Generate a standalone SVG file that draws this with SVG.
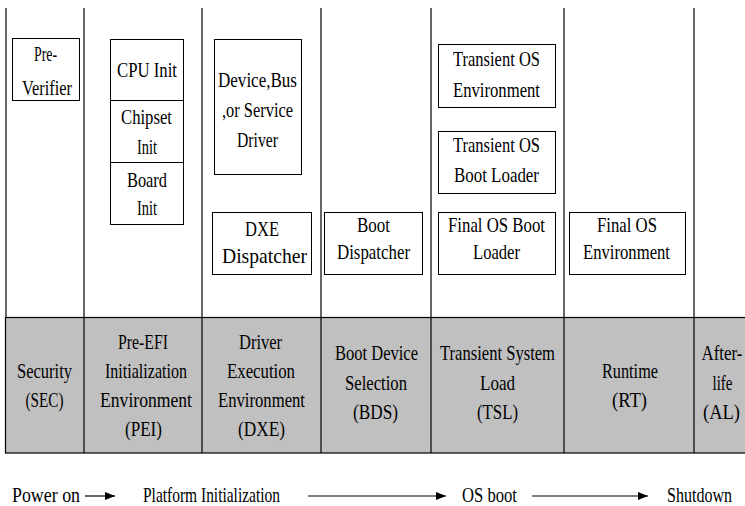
<svg xmlns="http://www.w3.org/2000/svg" width="745" height="506" viewBox="0 0 745 506" font-family="'Liberation Serif', 'Times New Roman', Times, serif">
<style>
text{font-family:'Liberation Serif','Times New Roman',Times,serif;font-size:22px;fill:#000;text-anchor:middle}
.box{fill:#fff;stroke:#000;stroke-width:1}
.lane{stroke:#000;stroke-width:1.2;fill:none}
.band{fill:#c0c0c0;stroke:#000;stroke-width:1.2}
.arr{stroke:#000;stroke-width:1.2;fill:none;marker-end:url(#ah)}
</style>
<defs>
<marker id="ah" viewBox="0 0 10 8" refX="10" refY="4" markerWidth="10" markerHeight="8" markerUnits="userSpaceOnUse" orient="auto">
<path d="M0,0 L10,4 L0,8 Z" fill="#000"/>
</marker>
</defs>
<rect width="745" height="506" fill="#fff"/>
<g id="lanes">
<line class="lane" x1="6" y1="8" x2="6" y2="317"/>
<line class="lane" x1="84" y1="8" x2="84" y2="317"/>
<line class="lane" x1="202" y1="8" x2="202" y2="317"/>
<line class="lane" x1="321" y1="8" x2="321" y2="317"/>
<line class="lane" x1="431" y1="8" x2="431" y2="317"/>
<line class="lane" x1="564" y1="8" x2="564" y2="317"/>
<line class="lane" x1="694" y1="8" x2="694" y2="317"/>
</g>
<g id="phases">
<rect class="band" x="5.5" y="317.5" width="745" height="135.5"/>
<line class="lane" x1="84" y1="317" x2="84" y2="453"/>
<line class="lane" x1="202" y1="317" x2="202" y2="453"/>
<line class="lane" x1="321" y1="317" x2="321" y2="453"/>
<line class="lane" x1="431" y1="317" x2="431" y2="453"/>
<line class="lane" x1="564" y1="317" x2="564" y2="453"/>
<line class="lane" x1="694" y1="317" x2="694" y2="453"/>
</g>
<g id="sec">
<text x="44.5" y="378" textLength="55" lengthAdjust="spacingAndGlyphs">Security</text>
<text x="44.5" y="407" textLength="38" lengthAdjust="spacingAndGlyphs">(SEC)</text>
</g>
<g id="pei">
<text x="143" y="349" textLength="50" lengthAdjust="spacingAndGlyphs">Pre-EFI</text>
<text x="146" y="378" textLength="82" lengthAdjust="spacingAndGlyphs">Initialization</text>
<text x="146" y="407" textLength="92" lengthAdjust="spacingAndGlyphs">Environment</text>
<text x="143.5" y="436" textLength="37" lengthAdjust="spacingAndGlyphs">(PEI)</text>
</g>
<g id="dxe">
<text x="260.5" y="349" textLength="43" lengthAdjust="spacingAndGlyphs">Driver</text>
<text x="261" y="378" textLength="68" lengthAdjust="spacingAndGlyphs">Execution</text>
<text x="261.5" y="407" textLength="87" lengthAdjust="spacingAndGlyphs">Environment</text>
<text x="261.5" y="436" textLength="47" lengthAdjust="spacingAndGlyphs">(DXE)</text>
</g>
<g id="bds">
<text x="376.5" y="360" textLength="83" lengthAdjust="spacingAndGlyphs">Boot Device</text>
<text x="376" y="390" textLength="62" lengthAdjust="spacingAndGlyphs">Selection</text>
<text x="375.5" y="419" textLength="45" lengthAdjust="spacingAndGlyphs">(BDS)</text>
</g>
<g id="tsl">
<text x="497.5" y="360" textLength="115" lengthAdjust="spacingAndGlyphs">Transient System</text>
<text x="497.5" y="390" textLength="35" lengthAdjust="spacingAndGlyphs">Load</text>
<text x="497.5" y="419" textLength="41" lengthAdjust="spacingAndGlyphs">(TSL)</text>
</g>
<g id="rt">
<text x="630" y="378" textLength="56" lengthAdjust="spacingAndGlyphs">Runtime</text>
<text x="629.5" y="407" textLength="35" lengthAdjust="spacingAndGlyphs">(RT)</text>
</g>
<g id="al">
<text x="722" y="360" textLength="41" lengthAdjust="spacingAndGlyphs">After-</text>
<text x="722.5" y="390" textLength="20" lengthAdjust="spacingAndGlyphs">life</text>
<text x="721.5" y="419" textLength="37" lengthAdjust="spacingAndGlyphs">(AL)</text>
</g>
<g id="pre-verifier">
<rect class="box" x="12.5" y="38.5" width="67" height="62"/>
<text x="45.5" y="61" textLength="23" lengthAdjust="spacingAndGlyphs">Pre-</text>
<text x="47" y="95" textLength="50" lengthAdjust="spacingAndGlyphs">Verifier</text>
</g>
<g id="cpu-init">
<rect class="box" x="110.5" y="39.5" width="73" height="61"/>
<text x="147" y="77" textLength="60" lengthAdjust="spacingAndGlyphs">CPU Init</text>
</g>
<g id="chipset-init">
<rect class="box" x="110.5" y="100.5" width="73" height="62"/>
<text x="146.5" y="124" textLength="51" lengthAdjust="spacingAndGlyphs">Chipset</text>
<text x="147" y="154" textLength="20" lengthAdjust="spacingAndGlyphs">Init</text>
</g>
<g id="board-init">
<rect class="box" x="110.5" y="162.5" width="73" height="62"/>
<text x="147" y="187" textLength="40" lengthAdjust="spacingAndGlyphs">Board</text>
<text x="147" y="215" textLength="20" lengthAdjust="spacingAndGlyphs">Init</text>
</g>
<g id="device-driver">
<rect class="box" x="214.5" y="39.5" width="87" height="135"/>
<text x="257.5" y="87" textLength="79" lengthAdjust="spacingAndGlyphs">Device,Bus</text>
<text x="257.5" y="117" textLength="71" lengthAdjust="spacingAndGlyphs">,or Service</text>
<text x="257.5" y="147" textLength="41" lengthAdjust="spacingAndGlyphs">Driver</text>
</g>
<g id="dxe-dispatcher">
<rect class="box" x="212.5" y="212.5" width="99" height="62"/>
<text x="262" y="236" textLength="34" lengthAdjust="spacingAndGlyphs">DXE</text>
<text x="264.5" y="263" textLength="85" lengthAdjust="spacingAndGlyphs">Dispatcher</text>
</g>
<g id="boot-dispatcher">
<rect class="box" x="324.5" y="212.5" width="98" height="62"/>
<text x="373.5" y="232" textLength="33" lengthAdjust="spacingAndGlyphs">Boot</text>
<text x="373.5" y="259" textLength="73" lengthAdjust="spacingAndGlyphs">Dispatcher</text>
</g>
<g id="transient-os-env">
<rect class="box" x="438.5" y="44.5" width="117" height="63"/>
<text x="496.5" y="66" textLength="87" lengthAdjust="spacingAndGlyphs">Transient OS</text>
<text x="496.5" y="97" textLength="87" lengthAdjust="spacingAndGlyphs">Environment</text>
</g>
<g id="transient-os-loader">
<rect class="box" x="438.5" y="131.5" width="117" height="62"/>
<text x="496.5" y="152" textLength="87" lengthAdjust="spacingAndGlyphs">Transient OS</text>
<text x="496.5" y="182" textLength="85" lengthAdjust="spacingAndGlyphs">Boot Loader</text>
</g>
<g id="final-os-loader">
<rect class="box" x="438.5" y="212.5" width="117" height="62"/>
<text x="496.5" y="232" textLength="97" lengthAdjust="spacingAndGlyphs">Final OS Boot</text>
<text x="496.5" y="259" textLength="47" lengthAdjust="spacingAndGlyphs">Loader</text>
</g>
<g id="final-os-env">
<rect class="box" x="569.5" y="212.5" width="116" height="62"/>
<text x="627" y="232" textLength="60" lengthAdjust="spacingAndGlyphs">Final OS</text>
<text x="626.5" y="259" textLength="87" lengthAdjust="spacingAndGlyphs">Environment</text>
</g>
<g id="timeline-labels">
<text x="46" y="502" textLength="68" lengthAdjust="spacingAndGlyphs">Power on</text>
<text x="211.5" y="502" textLength="137" lengthAdjust="spacingAndGlyphs">Platform Initialization</text>
<text x="489.5" y="502" textLength="55" lengthAdjust="spacingAndGlyphs">OS boot</text>
<text x="699.5" y="502" textLength="65" lengthAdjust="spacingAndGlyphs">Shutdown</text>
</g>
<g id="connectors">
<line class="arr" x1="85" y1="496" x2="115" y2="496"/>
<line class="arr" x1="308" y1="496" x2="446" y2="496"/>
<line class="arr" x1="532" y1="496" x2="648" y2="496"/>
</g>
</svg>
